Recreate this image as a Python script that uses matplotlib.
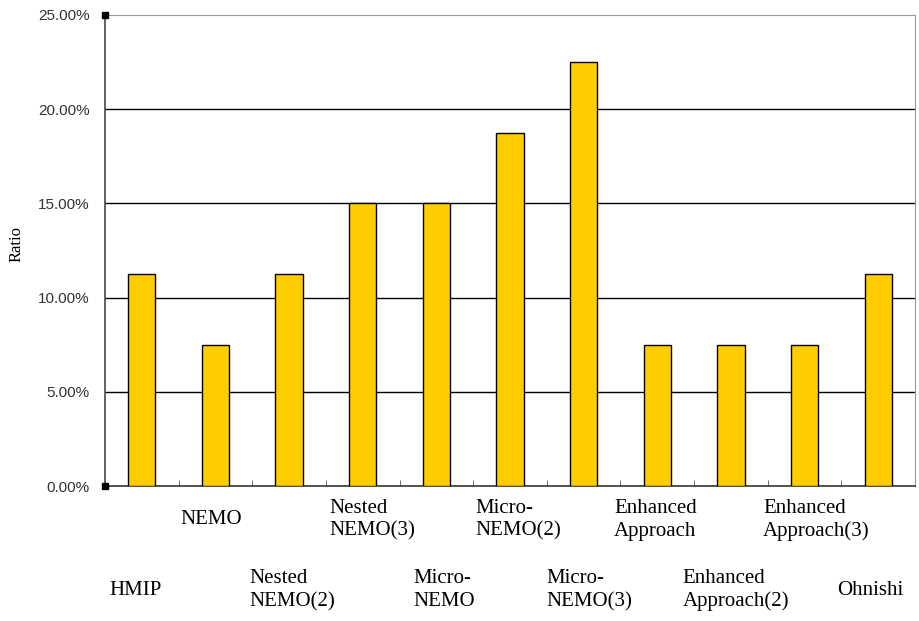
import matplotlib
matplotlib.use("Agg")
import matplotlib.pyplot as plt
import matplotlib.transforms as mtransforms
import numpy as np

categories = ["HMIP", "NEMO", "Nested\nNEMO(2)", "Nested\nNEMO(3)", "Micro-\nNEMO",
              "Micro-\nNEMO(2)", "Micro-\nNEMO(3)", "Enhanced\nApproach",
              "Enhanced\nApproach(2)", "Enhanced\nApproach(3)", "Ohnishi"]
ratios = [11.25, 7.5, 11.25, 15.0, 15.0, 18.75, 22.5, 7.5, 7.5, 7.5, 11.25]
y_ticks = [0, 5, 10, 15, 20, 25]

# small horizontal nudges (pixels) for the staggered labels
label_shift = [-6, -4, 3, 10, 8, 8, 6, -2, 5, 12, -8]

fig = plt.figure(figsize=(9.19, 6.21), dpi=100)
ax = fig.add_axes([105 / 919, 1 - 486 / 621, 810 / 919, 471 / 621])

x = np.arange(len(categories))
ax.bar(x, ratios, width=0.37, color="#FFCC00", edgecolor="black", linewidth=1, zorder=3)

ax.set_xlim(-0.5, len(categories) - 0.5)
ax.set_ylim(0, 25)

# horizontal grid lines
for v in y_ticks[1:-1]:
    ax.axhline(v, color="black", linewidth=1, zorder=1)

ax.set_yticks(y_ticks)
ax.set_yticklabels(["%.2f%%" % v for v in y_ticks], fontsize=11, color="#333333",
                   family="Liberation Sans")
ax.tick_params(axis="y", length=0, pad=11)

# category boundary ticks pointing into the plot
ax.set_xticks([])
ax.set_xticks(np.arange(0.5, len(categories) - 0.5), minor=True)
ax.tick_params(axis="x", which="minor", direction="in", length=4, color="#555555",
               labelbottom=False)

ax.spines["left"].set_color("#555555")
ax.spines["left"].set_linewidth(1.3)
ax.spines["bottom"].set_color("#444444")
ax.spines["bottom"].set_linewidth(1.3)
ax.spines["top"].set_color("#999999")
ax.spines["right"].set_color("#999999")

# small handles at the ends of the value axis
ax.plot([-0.5, -0.5], [0, 25], linestyle="none", marker="s", markersize=4,
        color="black", clip_on=False, zorder=5)

# staggered category labels
trans = mtransforms.blended_transform_factory(ax.transData, ax.transAxes)
slot_px = 810 / len(categories)
for i, name in enumerate(categories):
    y = -0.072 if i % 2 == 1 else -0.221
    ax.text(i + label_shift[i] / slot_px, y, name, transform=trans, ha="center",
            va="center", multialignment="left", fontsize=15, family="Liberation Serif",
            linespacing=1.25)

fig.text(17 / 919, 1 - 244 / 621, "Ratio", rotation=90, ha="center", va="center",
         fontsize=12, family="Liberation Serif")

fig.savefig("out.png", dpi=100)
